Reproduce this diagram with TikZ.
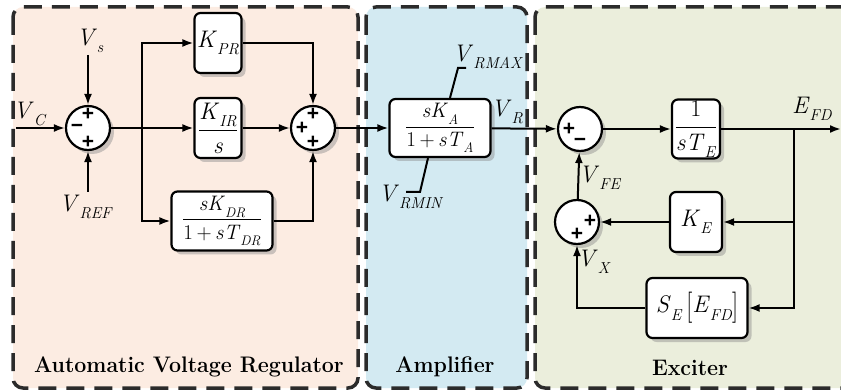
\documentclass[tikz,border=0pt]{standalone}
\usepackage{fontspec}
\newfontfamily\signfont{Liberation Sans}
\usepackage{graphicx}
\usetikzlibrary{arrows.meta,shadows}
\definecolor{avrfill}{HTML}{FCECE2}
\definecolor{ampfill}{HTML}{D3EAF2}
\definecolor{excfill}{HTML}{EBEEDC}
\definecolor{bordercol}{HTML}{2B2B2B}
\newcommand{\vsym}[2]{\textit{#1}\raisebox{-0.3em}{\scalebox{0.66}{\textit{#2}}}}
\newcommand{\frc}[2]{$\displaystyle\frac{\mbox{#1}}{\mbox{#2}}$}
\newcommand{\ttltext}[1]{\scalebox{0.95}[1]{#1}}
\begin{document}
\begin{tikzpicture}[x=1pt,y=-1pt,
 region/.style={draw=bordercol, line width=3.5pt, dash pattern=on 18pt off 10pt, rounded corners=10pt},
 shad/.style={drop shadow={shadow xshift=4pt,shadow yshift=-4pt,fill=black!45,opacity=0.45}},
 blk/.style={draw, line width=2.2pt, rounded corners=6pt, fill=white, inner sep=0pt, shad, font=\fontsize{24}{26}\selectfont},
 fblk/.style={blk, font=\fontsize{21}{23}\selectfont},
 sumn/.style={circle, draw, line width=2.2pt, fill=white, minimum size=44pt, inner sep=0pt, shad},
 sgn/.style={font=\signfont\bfseries\fontsize{21}{21}\selectfont, inner sep=0pt},
 conn/.style={line width=2pt, -{Latex[length=11pt,width=8pt]}},
 wire/.style={line width=2pt},
 lbl/.style={font=\fontsize{24}{26}\selectfont, inner sep=0pt},
 ttl/.style={font=\bfseries\fontsize{22.5}{24}\selectfont, inner sep=0pt}]
\useasboundingbox (0,0) rectangle (841,390);
\clip (0,0) rectangle (841,390);
% regions
\draw[region, fill=avrfill] (13,7) rectangle (358,388);
\draw[region, fill=ampfill] (366,7) rectangle (527,388);
\draw[region, fill=excfill] (535,7) rectangle (880,388);
\node[ttl] (tavr) at (189,367) {\ttltext{Automatic Voltage Regulator}};
\node[ttl] (tamp) at (445,367) {\ttltext{Amplifier}};
\node[ttl] (texc) at (690,368) {\ttltext{Exciter}};
% AVR
\node[sumn] (s1) at (88,128) {};
\node[sgn] at ([yshift=14pt]s1.center) {+};
\node[sgn] at ([yshift=-14pt]s1.center) {+};
\node[sgn] at ([xshift=-11pt]s1.center) {−};
\node[lbl] (vc) at (30,114) {\vsym{V}{C}};
\node[lbl] (vs) at (90,41) {\vsym{V}{s}};
\node[lbl] (vref) at (86,207) {\vsym{V}{REF}};
\coordinate (vcin) at (16,128);
\coordinate (vsin) at (88,55);
\coordinate (vrefin) at (88,192);
\coordinate (b1) at (142,128);
\node[blk, minimum width=47pt, minimum height=60pt] (kpr) at (218,43) {\vsym{K}{PR}};
\node[blk, minimum width=47pt, minimum height=60pt] (kir) at (218,128) {\frc{\vsym{K}{IR}}{\textit{s}}};
\node[fblk, minimum width=101pt, minimum height=59pt] (kdr) at (222,221) {\frc{\textit{s}\vsym{K}{DR}}{1\,+\,\textit{s}\vsym{T}{DR}}};
\node[sumn] (s2) at (313,128) {};
\node[sgn] at ([yshift=14pt]s2.center) {+};
\node[sgn] at ([yshift=-14pt]s2.center) {+};
\node[sgn] at ([xshift=-11pt]s2.center) {+};
\draw[conn] (vcin) -- (s1);
\draw[conn] (vsin) -- (s1);
\draw[conn] (vrefin) -- (s1);
\draw[conn] (s1) -- (kir);
\draw[conn] (b1) |- (kpr);
\draw[conn] (b1) |- (kdr);
\draw[conn] (kpr) -| (s2);
\draw[conn] (kir) -- (s2);
\draw[conn] (kdr) -| (s2);
% Amplifier
\node[fblk, minimum width=101pt, minimum height=58pt] (amp) at (440,128) {\frc{\textit{s}\vsym{K}{A}}{1\,+\,\textit{s}\vsym{T}{A}}};
\draw[conn] (s2) -- (amp);
\coordinate (mx1) at (458,68);
\coordinate (mx2) at (466,68);
\coordinate (mn1) at (420,192);
\coordinate (mn2) at (406,192);
\draw[wire] ([xshift=10pt]amp.north) -- (mx1) -- (mx2);
\draw[wire] ([xshift=-12pt]amp.south) -- (mn1) -- (mn2);
\node[lbl] (vrmax) at (488,57) {\vsym{V}{RMAX}};
\node[lbl] (vrmin) at (411,197) {\vsym{V}{RMIN}};
\node[lbl] (vr) at (507,112) {\vsym{V}{R}};
% Exciter
\node[sumn] (s3) at (580,129) {};
\node[sgn] at ([xshift=-11pt]s3.center) {+};
\node[sgn] at ([yshift=-13pt]s3.center) {−};
\node[blk, minimum width=48pt, minimum height=59pt] (te) at (696,129) {\frc{1}{\textit{s}\vsym{T}{E}}};
\node[blk, minimum width=52pt, minimum height=60pt] (ke) at (696,222) {\vsym{K}{E}};
\node[blk, minimum width=101pt, minimum height=60pt] (se) at (697,308) {\vsym{S}{E}\,\raisebox{-0.12em}{\scalebox{1}[1.3]{[}}\vsym{E}{FD}\raisebox{-0.12em}{\scalebox{1}[1.3]{]}}};
\node[sumn] (s4) at (577,222) {};
\node[sgn] at ([xshift=13pt,yshift=1pt]s4.center) {+};
\node[sgn] at ([yshift=-12pt]s4.center) {+};
\coordinate (b2) at (794,129);
\coordinate (efd) at (841,129);
\draw[conn] (amp) -- (s3);
\draw[conn] (s3) -- (te);
\draw[conn] (te) -- (efd);
\draw[conn] (b2) |- (ke);
\draw[conn] (b2) |- (se);
\draw[conn] (ke) -- (s4);
\draw[conn] (se) -| (s4);
\draw[conn] (s4) -- (s3);
\node[lbl] (efdl) at (812,109) {\vsym{E}{FD}};
\node[lbl] (vfe) at (600,178) {\vsym{V}{FE}};
\node[lbl] (vx) at (594,262) {\vsym{V}{X}};
\end{tikzpicture}
\end{document}
